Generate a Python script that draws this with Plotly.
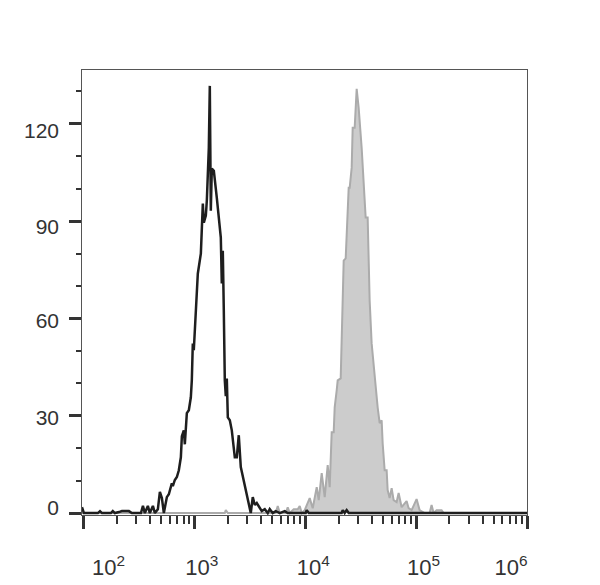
import plotly.graph_objects as go

# unstained / isotype control (black outline)
black_x = [97, 101, 135, 141, 147, 177, 184, 192, 209, 222,
           242, 257, 273, 330, 344, 358, 381, 397, 423, 441,
           469, 489, 510, 531, 565, 589, 627, 640, 667, 696,
           725, 756, 772, 804, 821, 838, 856, 892, 930, 949,
           969, 989, 1010, 1031, 1075, 1145, 1168, 1193, 1218, 1270,
           1296, 1351, 1379, 1408, 1438, 1499, 1595, 1697, 1733, 1769,
           1806, 1844, 1883, 1922, 1963, 2004, 2089, 2177, 2317, 2415,
           2517, 2624, 2792, 2972, 3162, 3228, 3365, 3508, 3656, 3890,
           4055, 4315, 4592, 4786, 5093, 5420, 5891, 6535, 6954, 10100,
           10315, 10754, 21322, 21770, 22690, 23650, 24660, 1000000]
black_y = [1.8, 0, 0, 0.6, 0, 0, 0.6, 0, 0.3, 0.6,
           0.6, 0.6, 0, 0, 2.2, 0, 2.2, 0, 2.2, 0,
           1.2, 6.5, 4.6, 0, 4.9, 5.8, 9.2, 8.3, 10.2, 11.1,
           13.2, 17.2, 23.7, 25.5, 21.2, 26.5, 30.8, 31.7, 35.7, 40.9,
           52.3, 50.2, 56.3, 63.4, 73.8, 80, 89.5, 95.4, 89.5, 91.7,
           96.3, 112.6, 131.7, 93.2, 106.2, 105.5, 97.2, 87.1, 84.9, 70.8,
           80.9, 62.5, 40.9, 36, 41.5, 29.5, 28.6, 25.5, 17.2, 17.2,
           24, 14.2, 10.2, 6.2, 1.8, 0, 4.9, 2.5, 3.1, 1.8,
           0.6, 1.2, 0, 1.2, 0, 0.6, 0, 0.6, 0, 0,
           0.9, 0, 0, 0.9, 0, 0.9, 0, 0]

# stained sample (grey filled)
grey_x = [97, 1883, 1922, 2004, 5420, 5653, 5891, 6673, 6954, 7253,
          7877, 8558, 8923, 9301, 9897, 10978, 11684, 12697, 13234, 14081,
          14985, 15947, 16624, 17327, 18062, 18440, 19223, 19624, 20885, 21322,
          21770, 22229, 23168, 24152, 24660, 25175, 26240, 26790, 27920, 29107,
          30339, 32285, 34356, 35075, 36566, 37334, 38115, 39728, 42280, 45000,
          46910, 48900, 49925, 52040, 54245, 55380, 57720, 60170, 62720, 66730,
          69560, 74030, 82100, 85580, 91090, 101000, 107500, 119300, 132300, 137900,
          143800, 153000, 169700, 176900, 1000000]
grey_y = [0, 0, 0.9, 0, 0, 2.2, 0, 0, 1.8, 0,
          1.2, 1.2, 2.2, 0, 0.9, 4.6, 1.5, 8, 4, 12.3,
          4.9, 14.8, 8, 24.9, 24.9, 32.6, 37.8, 40.9, 41.5, 52.3,
          66.5, 77.8, 78.5, 96.3, 100.3, 100.3, 106.5, 118.8, 118.8, 130.8,
          124.9, 112.6, 96.3, 91.1, 91.1, 75.7, 65.5, 52.3, 41.8, 32.6,
          27.7, 28.6, 21.5, 13.2, 13.2, 7.1, 4.6, 7.7, 4, 3.4,
          6.2, 1.8, 3.7, 1.5, 0.9, 4.3, 0.9, 0, 0, 2.5,
          0, 0.9, 0.9, 0, 0]

y_ticks = [0, 30, 60, 90, 120]
y_label_pos = [1.8, 29.5, 59.4, 88.3, 118]
y_label_text = ["0", "30", "60", "90", "120"]
x_label_pos = [168, 1168, 11810, 116800, 717600]
x_label_text = ["10<sup>2</sup>", "10<sup>3</sup>", "10<sup>4</sup>",
                "10<sup>5</sup>", "10<sup>6</sup>"]

axis_col = "#333333"
x_range = [1.987, 6.0]
y_range = [-0.6, 136.6]

fig = go.Figure()

fig.add_trace(go.Scatter(
    x=grey_x, y=grey_y, mode="lines",
    line=dict(color="#ababab", width=2),
    fill="tozeroy", fillcolor="#cccccc",
    xaxis="x", yaxis="y", hoverinfo="skip",
))
fig.add_trace(go.Scatter(
    x=black_x, y=black_y, mode="lines",
    line=dict(color="#1e1e1e", width=2.5),
    xaxis="x2", yaxis="y2", hoverinfo="skip",
))

# page body adds 8px offset, so margins are shifted by 8
fig.update_layout(
    width=600, height=585,
    showlegend=False,
    plot_bgcolor="white", paper_bgcolor="white",
    margin=dict(l=74, r=81, t=62, b=78),
    font=dict(family="Liberation Sans, Arial, sans-serif", size=21, color=axis_col),
    xaxis=dict(
        type="log", range=x_range, dtick=1,
        showgrid=False, zeroline=False,
        showline=True, linecolor="#555555", linewidth=1, mirror=True,
        ticks="outside", ticklen=13, tickwidth=3, tickcolor=axis_col,
        showticklabels=False,
        minor=dict(ticks="outside", ticklen=8, tickwidth=1.5,
                   tickcolor=axis_col, dtick="D1", showgrid=False),
    ),
    xaxis2=dict(
        type="log", range=x_range, overlaying="x", anchor="y", side="bottom",
        showgrid=False, zeroline=False, showline=False,
        ticks="", tickvals=x_label_pos, ticktext=x_label_text,
        ticklabelstandoff=37,
        tickfont=dict(size=22, color=axis_col),
    ),
    yaxis=dict(
        range=y_range,
        tickvals=y_ticks,
        showgrid=False, zeroline=False,
        showline=True, linecolor="#555555", linewidth=1, mirror=True,
        ticks="outside", ticklen=12, tickwidth=3, tickcolor=axis_col,
        showticklabels=False,
        minor=dict(ticks="outside", ticklen=5, tickwidth=1.5,
                   tickcolor=axis_col, dtick=10, showgrid=False),
    ),
    yaxis2=dict(
        range=y_range, overlaying="y", anchor="x", side="left",
        showgrid=False, zeroline=False, showline=False,
        ticks="", tickvals=y_label_pos, ticktext=y_label_text,
        ticklabelstandoff=22,
        tickfont=dict(size=21, color=axis_col),
    ),
)

fig.write_html("out.html")
